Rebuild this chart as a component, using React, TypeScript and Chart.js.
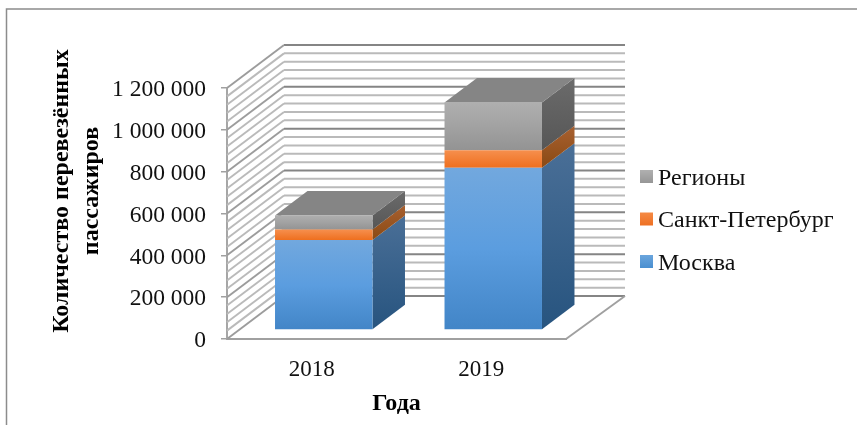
import React, { useEffect, useRef } from "react";
import { Chart, registerables } from "chart.js";

Chart.register(...registerables);

const years = ["2018", "2019"];
const moscow = [430000, 776000];
const saintPetersburg = [50000, 83000];
const regions = [68000, 229000];

const seriesNames = ["Москва", "Санкт-Петербург", "Регионы"];
const seriesValues = [moscow, saintPetersburg, regions];

const yMax = 1200000;
const majorStep = 200000;
const minorStep = 40000;

const yTitleLines = ["Количество перевезённых", "пассажиров"];
const xTitle = "Года";

const SERIF = '"Liberation Serif", "Times New Roman", serif';

// Pseudo-3D projection: offsets of the back wall and of the bar prisms.
const WALL_DX = 57;
const WALL_DY = -43;
const FLOOR_RIGHT_DX = 59;
const BAR_SHIFT_DX = 12;
const BAR_SHIFT_DY = -9;
const BAR_DEPTH_DX = 32.5;
const BAR_DEPTH_DY = -24.5;

const frontStops = [
  ["#72a8de", "#5b9ddf", "#4285c7"],
  ["#f68f4d", "#f27f36", "#ee6f1e"],
  ["#afafaf", "#a2a2a2", "#939393"],
];
const sideStops = [
  ["#4a6f97", "#27547f"],
  ["#a86030", "#8a4a14"],
  ["#6b6b6b", "#565656"],
];
const topFace = "#858585";
const legendStops = [
  ["#6aa5dd", "#4a8fd0"],
  ["#f58a45", "#ee7023"],
  ["#b0b0b0", "#969696"],
];

const formatTick = (v: number) => String(v).replace(/\B(?=(\d{3})+$)/g, " ");

const stackedUpTo = (series: number, index: number) =>
  seriesValues.slice(0, series + 1).reduce((sum, s) => sum + s[index], 0);

const wallsPlugin = {
  id: "walls",
  beforeDatasetsDraw(chart: any) {
    const { ctx, chartArea, scales } = chart;
    const y = scales.y;
    const { left, right } = chartArea;
    ctx.save();
    ctx.lineCap = "butt";
    for (let v = 0; v <= yMax; v += minorStep) {
      const py = y.getPixelForValue(v);
      const major = v % majorStep === 0;
      ctx.strokeStyle = major ? "#858585" : "#bababa";
      ctx.lineWidth = 2;
      ctx.beginPath();
      ctx.moveTo(left + WALL_DX, py + WALL_DY);
      ctx.lineTo(right + FLOOR_RIGHT_DX, py + WALL_DY);
      ctx.stroke();
      ctx.strokeStyle = major ? "#9c9c9c" : "#bababa";
      ctx.lineWidth = 1.9;
      ctx.beginPath();
      ctx.moveTo(left, py);
      ctx.lineTo(left + WALL_DX, py + WALL_DY);
      ctx.stroke();
    }
    // Right edge of the floor
    const floor = y.getPixelForValue(0);
    ctx.strokeStyle = "#a0a0a0";
    ctx.lineWidth = 1.9;
    ctx.beginPath();
    ctx.moveTo(right, floor);
    ctx.lineTo(right + FLOOR_RIGHT_DX, floor + WALL_DY);
    ctx.stroke();

    // Side and top faces of the prisms, behind the native front faces
    seriesValues.forEach((_, s) => {
      const meta = chart.getDatasetMeta(s);
      meta.data.forEach((bar: any) => {
        const x = bar.x + bar.width / 2 + BAR_SHIFT_DX;
        const top = bar.y + BAR_SHIFT_DY;
        const bottom = bar.base + BAR_SHIFT_DY;
        const g = ctx.createLinearGradient(0, top + BAR_DEPTH_DY, 0, bottom);
        g.addColorStop(0, sideStops[s][0]);
        g.addColorStop(1, sideStops[s][1]);
        ctx.fillStyle = g;
        ctx.beginPath();
        ctx.moveTo(x, top);
        ctx.lineTo(x + BAR_DEPTH_DX, top + BAR_DEPTH_DY);
        ctx.lineTo(x + BAR_DEPTH_DX, bottom + BAR_DEPTH_DY);
        ctx.lineTo(x, bottom);
        ctx.closePath();
        ctx.fill();
        if (s === seriesValues.length - 1) {
          const xl = x - bar.width;
          ctx.fillStyle = topFace;
          ctx.beginPath();
          ctx.moveTo(xl, top);
          ctx.lineTo(xl + BAR_DEPTH_DX, top + BAR_DEPTH_DY);
          ctx.lineTo(x + BAR_DEPTH_DX, top + BAR_DEPTH_DY);
          ctx.lineTo(x, top);
          ctx.closePath();
          ctx.fill();
        }
      });
    });
    ctx.restore();

    // Native bars are painted in the plane of the prisms' front faces
    ctx.save();
    ctx.translate(BAR_SHIFT_DX, BAR_SHIFT_DY);
  },
  afterDatasetsDraw(chart: any) {
    chart.ctx.restore();
  },
};

const decorPlugin = {
  id: "decor",
  afterDraw(chart: any) {
    const { ctx } = chart;
    ctx.save();
    // Chart frame, top and left edges only
    ctx.strokeStyle = "#8c8c8c";
    ctx.lineWidth = 1.5;
    ctx.beginPath();
    ctx.moveTo(857, 9);
    ctx.lineTo(6.5, 9);
    ctx.lineTo(6.5, 425);
    ctx.stroke();

    // Value axis title, two rotated lines
    ctx.fillStyle = "#000000";
    ctx.font = `bold 24px ${SERIF}`;
    ctx.textAlign = "center";
    ctx.textBaseline = "middle";
    [62, 92].forEach((x, i) => {
      ctx.save();
      ctx.translate(x, 191);
      ctx.rotate(-Math.PI / 2);
      ctx.fillText(yTitleLines[i], 0, 0);
      ctx.restore();
    });

    // Legend, last series on top
    ctx.font = `24px ${SERIF}`;
    ctx.textAlign = "left";
    [2, 1, 0].forEach((s, row) => {
      const cy = 176.5 + row * 42.5;
      const g = ctx.createLinearGradient(0, cy - 6.5, 0, cy + 6.5);
      g.addColorStop(0, legendStops[s][0]);
      g.addColorStop(1, legendStops[s][1]);
      ctx.fillStyle = g;
      ctx.fillRect(640, cy - 6.5, 13, 13);
      ctx.fillStyle = "#111111";
      ctx.fillText(seriesNames[s], 658, cy + 2);
    });
    ctx.restore();
  },
};

export default function App() {
  const ref = useRef<HTMLCanvasElement | null>(null);

  useEffect(() => {
    const chart = new Chart(ref.current as HTMLCanvasElement, {
      type: "bar",
      data: {
        labels: years,
        datasets: seriesValues.map((values, s) => ({
          label: seriesNames[s],
          data: values,
          clip: false,
          barPercentage: 0.575,
          categoryPercentage: 1,
          borderWidth: 0,
          backgroundColor: (c: any) => {
            const { chart: ch, dataIndex } = c;
            const scale = ch.scales?.y;
            if (dataIndex === undefined || !scale) return frontStops[s][1];
            const top = scale.getPixelForValue(stackedUpTo(s, dataIndex));
            const bottom = scale.getPixelForValue(s ? stackedUpTo(s - 1, dataIndex) : 0);
            if (!Number.isFinite(top) || !Number.isFinite(bottom)) return frontStops[s][1];
            const g = ch.ctx.createLinearGradient(0, top, 0, bottom);
            g.addColorStop(0, frontStops[s][0]);
            g.addColorStop(0.5, frontStops[s][1]);
            g.addColorStop(1, frontStops[s][2]);
            return g;
          },
        })),
      },
      options: {
        animation: false,
        responsive: false,
        layout: { padding: { left: 0, top: 88, right: 291, bottom: 0 } },
        plugins: {
          legend: { display: false },
          tooltip: { enabled: false },
        },
        scales: {
          x: {
            stacked: true,
            afterFit: (s: any) => {
              s.height = 86;
            },
            grid: { display: true, drawOnChartArea: false, drawTicks: false },
            border: { display: true, color: "#a0a0a0", width: 2 },
            ticks: {
              color: "#111111",
              padding: 17,
              maxRotation: 0,
              font: { family: SERIF, size: 23 },
            },
            title: {
              display: true,
              text: xTitle,
              color: "#000000",
              padding: { top: 6, bottom: 7 },
              font: { family: SERIF, size: 24, weight: "bold" },
            },
          },
          y: {
            stacked: true,
            min: 0,
            max: yMax,
            afterFit: (s: any) => {
              s.width = 227;
            },
            grid: { drawOnChartArea: false, color: "#a0a0a0", tickLength: 6, lineWidth: 1.5 },
            border: { display: true, color: "#a6a6a6", width: 2 },
            ticks: {
              stepSize: majorStep,
              color: "#111111",
              padding: 15,
              labelOffset: 2,
              font: { family: SERIF, size: 23.5 },
              callback: (v: any) => formatTick(Number(v)),
            },
          },
        },
      } as any,
      plugins: [wallsPlugin, decorPlugin],
    });
    return () => chart.destroy();
  }, []);

  return (
    <canvas
      ref={ref}
      width={857}
      height={425}
      style={{ position: "fixed", left: 0, top: 0, display: "block", background: "#ffffff" }}
    />
  );
}
